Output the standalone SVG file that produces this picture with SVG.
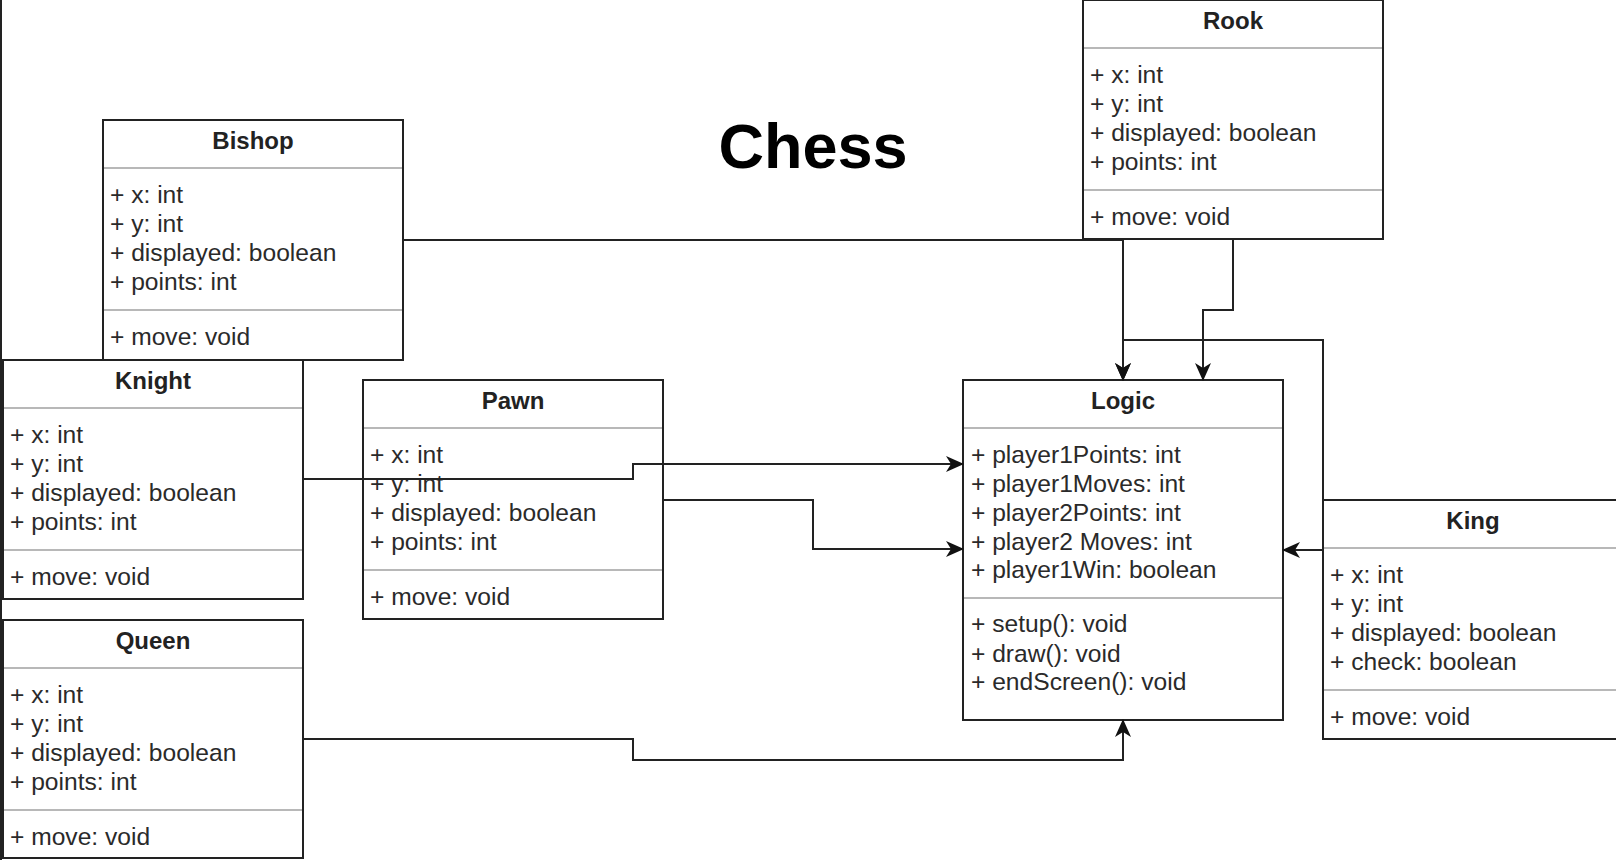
<svg xmlns="http://www.w3.org/2000/svg" width="1616" height="860" viewBox="0 0 1616 860">
<style>
.box{fill:#fff;stroke:#222;stroke-width:2}
.div{stroke:#b8b8b8;stroke-width:2}
.hd{font-family:"Liberation Sans",Arial,sans-serif;font-size:24px;font-weight:bold;fill:#222;text-anchor:middle}
.tx{font-family:"Liberation Sans",Arial,sans-serif;font-size:24.6px;fill:#2a2a2a}
.ttl{font-family:"Liberation Sans",Arial,sans-serif;font-size:63px;font-weight:bold;fill:#000;text-anchor:middle}
.ln{fill:none;stroke:#222;stroke-width:2}
</style>
<defs>
<marker id="arr" viewBox="0 0 18 16" refX="17" refY="8" markerWidth="18" markerHeight="16" markerUnits="userSpaceOnUse" orient="auto">
<path d="M0,0 L18,8 L0,16 L5,8 Z" fill="#111"/>
</marker>
</defs>
<rect width="1616" height="860" fill="#fff"/>
<line x1="1" y1="0" x2="1" y2="860" stroke="#222" stroke-width="2"/>
<text class="ttl" x="813" y="168">Chess</text>

<g id="bishop">
<rect class="box" x="103" y="120" width="300" height="240"/>
<line class="div" x1="104" y1="168" x2="402" y2="168"/>
<line class="div" x1="104" y1="310" x2="402" y2="310"/>
<text class="hd" x="253" y="149">Bishop</text>
<text class="tx" x="110" y="203">+ x: int</text>
<text class="tx" x="110" y="232">+ y: int</text>
<text class="tx" x="110" y="261">+ displayed: boolean</text>
<text class="tx" x="110" y="290">+ points: int</text>
<text class="tx" x="110" y="345">+ move: void</text>
</g>

<g id="rook">
<rect class="box" x="1083" y="0" width="300" height="239"/>
<line class="div" x1="1084" y1="48" x2="1382" y2="48"/>
<line class="div" x1="1084" y1="190" x2="1382" y2="190"/>
<text class="hd" x="1233" y="29">Rook</text>
<text class="tx" x="1090" y="83">+ x: int</text>
<text class="tx" x="1090" y="112">+ y: int</text>
<text class="tx" x="1090" y="141">+ displayed: boolean</text>
<text class="tx" x="1090" y="170">+ points: int</text>
<text class="tx" x="1090" y="225">+ move: void</text>
</g>

<g id="knight">
<rect class="box" x="3" y="360" width="300" height="239"/>
<line class="div" x1="4" y1="408" x2="302" y2="408"/>
<line class="div" x1="4" y1="550" x2="302" y2="550"/>
<text class="hd" x="153" y="389">Knight</text>
<text class="tx" x="10" y="443">+ x: int</text>
<text class="tx" x="10" y="472">+ y: int</text>
<text class="tx" x="10" y="501">+ displayed: boolean</text>
<text class="tx" x="10" y="530">+ points: int</text>
<text class="tx" x="10" y="585">+ move: void</text>
</g>

<g id="pawn">
<rect class="box" x="363" y="380" width="300" height="239"/>
<line class="div" x1="364" y1="428" x2="662" y2="428"/>
<line class="div" x1="364" y1="570" x2="662" y2="570"/>
<text class="hd" x="513" y="409">Pawn</text>
<text class="tx" x="370" y="463">+ x: int</text>
<text class="tx" x="370" y="492">+ y: int</text>
<text class="tx" x="370" y="521">+ displayed: boolean</text>
<text class="tx" x="370" y="550">+ points: int</text>
<text class="tx" x="370" y="605">+ move: void</text>
</g>

<g id="queen">
<rect class="box" x="3" y="620" width="300" height="238"/>
<line class="div" x1="4" y1="668" x2="302" y2="668"/>
<line class="div" x1="4" y1="810" x2="302" y2="810"/>
<text class="hd" x="153" y="649">Queen</text>
<text class="tx" x="10" y="703">+ x: int</text>
<text class="tx" x="10" y="732">+ y: int</text>
<text class="tx" x="10" y="761">+ displayed: boolean</text>
<text class="tx" x="10" y="790">+ points: int</text>
<text class="tx" x="10" y="845">+ move: void</text>
</g>

<g id="logic">
<rect class="box" x="963" y="380" width="320" height="340"/>
<line class="div" x1="964" y1="428" x2="1282" y2="428"/>
<line class="div" x1="964" y1="598" x2="1282" y2="598"/>
<text class="hd" x="1123" y="409">Logic</text>
<text class="tx" x="971" y="463">+ player1Points: int</text>
<text class="tx" x="971" y="492">+ player1Moves: int</text>
<text class="tx" x="971" y="521">+ player2Points: int</text>
<text class="tx" x="971" y="550">+ player2 Moves: int</text>
<text class="tx" x="971" y="578">+ player1Win: boolean</text>
<text class="tx" x="971" y="632">+ setup(): void</text>
<text class="tx" x="971" y="662">+ draw(): void</text>
<text class="tx" x="971" y="690">+ endScreen(): void</text>
</g>

<g id="king">
<rect class="box" x="1323" y="500" width="300" height="239"/>
<line class="div" x1="1324" y1="548" x2="1622" y2="548"/>
<line class="div" x1="1324" y1="690" x2="1622" y2="690"/>
<text class="hd" x="1473" y="529">King</text>
<text class="tx" x="1330" y="583">+ x: int</text>
<text class="tx" x="1330" y="612">+ y: int</text>
<text class="tx" x="1330" y="641">+ displayed: boolean</text>
<text class="tx" x="1330" y="670">+ check: boolean</text>
<text class="tx" x="1330" y="725">+ move: void</text>
</g>

<g id="connectors">
<path class="ln" d="M403,240 H1123 V380" marker-end="url(#arr)"/>
<path class="ln" d="M1123,239 V380" marker-end="url(#arr)"/>
<path class="ln" d="M1233,239 V310 H1203 V380" marker-end="url(#arr)"/>
<path class="ln" d="M1323,500 V340 H1123"/>
<path class="ln" d="M1323,550 H1283" marker-end="url(#arr)"/>
<path class="ln" d="M303,479 H633 V464 H963" marker-end="url(#arr)"/>
<path class="ln" d="M663,500 H813 V549 H963" marker-end="url(#arr)"/>
<path class="ln" d="M303,739 H633 V760 H1123 V720" marker-end="url(#arr)"/>
</g>
</svg>
